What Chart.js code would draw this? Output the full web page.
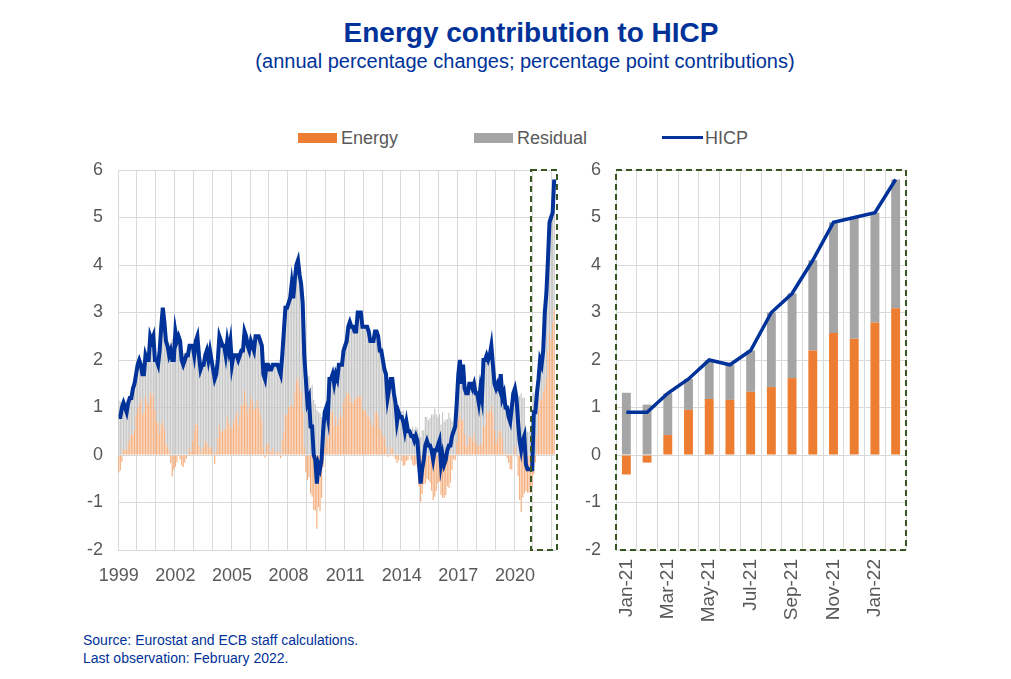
<!DOCTYPE html>
<html>
<head>
<meta charset="utf-8">
<script src="https://cdn.jsdelivr.net/npm/chart.js@4.4.1/dist/chart.umd.min.js"></script>
<style>
  body { margin: 0; width: 1011px; height: 679px; background: #fff; position: relative; overflow: hidden;
         font-family: "Liberation Sans", Arial, sans-serif; }
  .abs { position: absolute; }
  #title { left: 0; width: 1062px; top: 17px; text-align: center; font-size: 28px; font-weight: bold; color: #003299; line-height: 32px; }
  #subtitle { left: 0; width: 1050px; top: 49px; text-align: center; font-size: 20px; color: #003299; line-height: 24px; }
  .legText { font-size: 18px; color: #595959; line-height: 20px; top: 128px; }
  .foot { left: 83px; font-size: 14px; color: #003299; line-height: 18px; }
  #leftWrap { left: 0; top: 140px; width: 570px; height: 460px; }
  #rightWrap { left: 570px; top: 140px; width: 441px; height: 510px; }
</style>
</head>
<body>
<div id="title" class="abs">Energy contribution to HICP</div>
<div id="subtitle" class="abs">(annual percentage changes; percentage point contributions)</div>

<div class="abs" style="left:298px;top:133px;width:39px;height:10px;background:#ed7d31"></div>
<div class="abs legText" style="left:341px">Energy</div>
<div class="abs" style="left:474px;top:133px;width:39px;height:10px;background:#a5a5a5"></div>
<div class="abs legText" style="left:517px">Residual</div>
<div class="abs" style="left:662px;top:136px;width:41px;height:3px;background:#003299"></div>
<div class="abs legText" style="left:705px">HICP</div>

<div id="leftWrap" class="abs"><canvas id="leftChart"></canvas></div>
<div id="rightWrap" class="abs"><canvas id="rightChart"></canvas></div>

<div class="abs foot" style="top:631px">Source: Eurostat and ECB staff calculations.</div>
<div class="abs foot" style="top:649px">Last observation: February 2022.</div>

<script>
// monthly data, Jan 1999 - Feb 2022
const startYear = 1999;

// HICP, annual % change
const hicp = [
  0.8, 0.8, 1.0, 1.1, 1.0, 0.9, 1.1, 1.2, 1.2, 1.4, 1.5, 1.7,   // 1999
  1.9, 2.0, 1.9, 1.7, 1.7, 2.1, 2.0, 2.0, 2.5, 2.4, 2.5, 2.0,   // 2000
  2.0, 1.9, 2.2, 2.7, 3.1, 2.8, 2.4, 2.3, 2.1, 2.2, 2.0, 2.0,   // 2001
  2.6, 2.4, 2.5, 2.4, 2.0, 1.9, 2.0, 2.1, 2.1, 2.3, 2.3, 2.3,   // 2002
  2.1, 2.4, 2.5, 2.1, 1.8, 1.9, 1.9, 2.1, 2.2, 2.0, 2.2, 2.0,   // 2003
  1.8, 1.6, 1.7, 2.0, 2.5, 2.4, 2.3, 2.3, 2.1, 2.4, 2.2, 2.4,   // 2004
  1.9, 2.1, 2.1, 2.1, 2.0, 2.1, 2.2, 2.2, 2.6, 2.5, 2.3, 2.2,   // 2005
  2.4, 2.3, 2.2, 2.5, 2.5, 2.5, 2.4, 2.3, 1.7, 1.6, 1.9, 1.9,   // 2006
  1.8, 1.8, 1.9, 1.9, 1.9, 1.9, 1.8, 1.7, 2.1, 2.6, 3.1, 3.1,   // 2007
  3.2, 3.3, 3.6, 3.3, 3.7, 4.0, 4.1, 3.8, 3.6, 3.2, 2.1, 1.6,   // 2008
  1.1, 1.2, 0.6, 0.6, 0.0, -0.1, -0.6, -0.2, -0.3, -0.1, 0.5, 0.9, // 2009
  1.0, 0.8, 1.6, 1.6, 1.7, 1.5, 1.7, 1.6, 1.9, 1.9, 1.9, 2.2,   // 2010
  2.3, 2.4, 2.7, 2.8, 2.7, 2.7, 2.6, 2.6, 3.0, 3.0, 3.0, 2.7,   // 2011
  2.7, 2.7, 2.7, 2.6, 2.4, 2.4, 2.4, 2.6, 2.6, 2.5, 2.2, 2.2,   // 2012
  2.0, 1.8, 1.7, 1.2, 1.4, 1.6, 1.6, 1.3, 1.1, 0.7, 0.9, 0.8,   // 2013
  0.8, 0.7, 0.5, 0.7, 0.5, 0.5, 0.4, 0.4, 0.3, 0.4, 0.3, -0.2,  // 2014
  -0.6, -0.3, -0.1, 0.2, 0.3, 0.2, 0.2, 0.1, -0.1, 0.1, 0.1, 0.2, // 2015
  0.3, -0.2, 0.0, -0.2, -0.1, 0.1, 0.2, 0.2, 0.4, 0.5, 0.6, 1.1, // 2016
  1.7, 2.0, 1.5, 1.9, 1.4, 1.3, 1.3, 1.5, 1.5, 1.4, 1.5, 1.3,   // 2017
  1.3, 1.1, 1.4, 1.2, 2.0, 2.0, 2.1, 2.0, 2.1, 2.3, 1.9, 1.5,   // 2018
  1.4, 1.5, 1.4, 1.7, 1.2, 1.3, 1.0, 1.0, 0.8, 0.7, 1.0, 1.3,   // 2019
  1.4, 1.2, 0.7, 0.3, 0.1, 0.3, 0.4, -0.2, -0.3, -0.3, -0.3, -0.3, // 2020
  0.9, 0.9, 1.3, 1.6, 2.0, 1.9, 2.2, 3.0, 3.4, 4.1, 4.9, 5.0,   // 2021
  5.1, 5.8                                                      // 2022
];

// energy contribution, percentage points
const energy = [
  -0.37, -0.32, -0.14, 0.13, 0.10, 0.11, 0.26, 0.34, 0.44, 0.42, 0.52, 0.85,
  0.99, 1.08, 1.19, 0.84, 0.90, 1.24, 1.12, 1.05, 1.32, 1.22, 1.29, 0.94,
  0.72, 0.67, 0.45, 0.65, 0.71, 0.56, 0.24, 0.16, 0.11, -0.17, -0.45, -0.31,
  -0.25, -0.16, -0.01, -0.09, -0.22, -0.25, -0.16, -0.08, -0.02, 0.16, 0.07, 0.31,
  0.51, 0.65, 0.64, 0.19, 0.03, 0.13, 0.17, 0.30, 0.26, 0.14, 0.18, 0.15,
  0.03, -0.19, 0.08, 0.36, 0.62, 0.49, 0.50, 0.54, 0.56, 0.83, 0.68, 0.58,
  0.56, 0.69, 0.79, 0.92, 0.62, 0.85, 1.06, 1.04, 1.35, 1.09, 0.90, 1.01,
  1.22, 1.13, 0.95, 0.99, 1.16, 0.99, 0.86, 0.72, 0.14, -0.05, 0.21, 0.26,
  0.08, 0.07, 0.16, 0.04, 0.03, 0.08, 0.06, -0.07, 0.31, 0.49, 0.87, 0.83,
  1.02, 1.00, 1.08, 1.00, 1.32, 1.55, 1.63, 1.40, 1.30, 0.92, 0.17, -0.36,
  -0.53, -0.47, -0.81, -0.88, -1.16, -1.17, -1.55, -1.10, -1.18, -0.90, -0.25, 0.18,
  0.40, 0.33, 0.72, 0.91, 0.92, 0.62, 0.81, 0.61, 0.77, 0.85, 0.79, 1.10,
  1.20, 1.31, 1.30, 1.25, 1.11, 1.09, 1.18, 1.18, 1.24, 1.24, 1.23, 0.97,
  0.92, 0.95, 0.85, 0.81, 0.73, 0.61, 0.61, 0.89, 0.91, 0.80, 0.57, 0.52,
  0.39, 0.39, 0.17, -0.04, -0.02, 0.16, 0.16, -0.03, -0.09, -0.17, -0.11, 0.00,
  -0.12, -0.23, -0.21, -0.12, -0.11, 0.01, -0.10, -0.20, -0.23, -0.20, -0.26, -0.66,
  -0.98, -0.82, -0.62, -0.60, -0.50, -0.53, -0.58, -0.75, -0.95, -0.88, -0.76, -0.60,
  -0.56, -0.84, -0.90, -0.90, -0.84, -0.66, -0.69, -0.58, -0.31, -0.09, -0.11, 0.27,
  0.75, 0.85, 0.72, 0.74, 0.44, 0.18, 0.21, 0.39, 0.38, 0.29, 0.46, 0.28,
  0.21, 0.20, 0.19, 0.25, 0.59, 0.62, 0.92, 0.89, 0.92, 1.04, 0.88, 0.53,
  0.26, 0.35, 0.51, 0.51, 0.37, 0.02, 0.05, -0.06, -0.17, -0.30, -0.31, 0.02,
  0.18, -0.03, -0.44, -0.94, -1.20, -0.90, -0.81, -0.75, -0.79, -0.79, -0.80, -0.67,
  -0.41, -0.16, 0.42, 0.95, 1.18, 1.16, 1.33, 1.43, 1.62, 2.20, 2.57, 2.45,
  2.79, 3.09
];

// residual = headline minus energy
const residual = hicp.map((v, i) => +(v - energy[i]).toFixed(2));

const recentMonths = ['Jan-21', 'Feb-21', 'Mar-21', 'Apr-21', 'May-21', 'Jun-21', 'Jul-21',
                      'Aug-21', 'Sep-21', 'Oct-21', 'Nov-21', 'Dec-21', 'Jan-22', 'Feb-22'];
const yTicks = [-2, 6];

const months = hicp.map((v, i) => (startYear + Math.floor(i / 12)) + '-' + (i % 12 + 1));
const recentStart = months.length - recentMonths.length;

Chart.defaults.font.family = '"Liberation Sans", Arial, sans-serif';
Chart.defaults.font.size = 18;
Chart.defaults.color = '#595959';

const gridGrey = '#d9d9d9';
const blue = '#003299';

// dashed frame, either around whole plot or around the recent months only
const dashedBox = {
    id: 'dashedBox',
    afterDatasetsDraw(chart, args, opts) {
        const { ctx, chartArea, scales } = chart;
        let left = chartArea.left;
        let right = chartArea.right;
        if (opts.fromIndex !== undefined) {
            const x = scales.x;
            const step = x.getPixelForValue(1) - x.getPixelForValue(0);
            left = x.getPixelForValue(opts.fromIndex) - step / 2 - 2;
            right = chartArea.right + 2;
        }
        ctx.save();
        ctx.strokeStyle = '#375623';
        ctx.lineWidth = 2;
        ctx.setLineDash([6, 4]);
        ctx.strokeRect(left, chartArea.top, right - left, chartArea.bottom - chartArea.top);
        ctx.restore();
    }
};

function yAxis(width) {
    return {
        stacked: true,
        min: yTicks[0],
        max: yTicks[1],
        ticks: { stepSize: 1, padding: 15 },
        grid: { color: gridGrey, drawTicks: false },
        border: { color: gridGrey },
        afterFit(scale) { scale.width = width; }
    };
}

// left panel: full history
new Chart(document.getElementById('leftChart'), {
    type: 'bar',
    data: {
        labels: months,
        datasets: [
            { type: 'line', label: 'HICP', data: hicp, borderColor: blue, borderWidth: 4,
              pointRadius: 0, tension: 0, stack: 'line', order: 0 },
            { label: 'Energy', data: energy, backgroundColor: '#f5b080', borderWidth: 0,
              barPercentage: 0.75, categoryPercentage: 1, order: 1 },
            { label: 'Residual', data: residual, backgroundColor: '#c6c6c6', borderWidth: 0,
              barPercentage: 0.75, categoryPercentage: 1, order: 2 }
        ]
    },
    options: {
        responsive: true,
        maintainAspectRatio: false,
        animation: false,
        layout: { padding: { top: 30, right: 15, left: 0, bottom: 0 } },
        plugins: { legend: { display: false }, tooltip: { enabled: false },
                   dashedBox: { fromIndex: recentStart } },
        scales: {
            x: {
                stacked: true,
                ticks: {
                    autoSkip: false, maxRotation: 0, minRotation: 0, padding: 15,
                    callback: (v, i) => i % 36 === 0 ? String(startYear + i / 12) : ''
                },
                grid: {
                    drawTicks: false,
                    color: c => (c.index !== undefined && c.index % 12 === 0) ? gridGrey : 'rgba(0,0,0,0)'
                },
                border: { color: gridGrey },
                afterFit(scale) { scale.height = 50; }
            },
            y: yAxis(118)
        }
    },
    plugins: [dashedBox]
});

// right panel: last 14 months
new Chart(document.getElementById('rightChart'), {
    type: 'bar',
    data: {
        labels: recentMonths,
        datasets: [
            { type: 'line', label: 'HICP', data: hicp.slice(recentStart), borderColor: blue, borderWidth: 3.5,
              pointRadius: 0, tension: 0, stack: 'line', order: 0 },
            { label: 'Energy', data: energy.slice(recentStart), backgroundColor: '#ed7d31',
              barPercentage: 0.43, categoryPercentage: 1, order: 1 },
            { label: 'Residual', data: residual.slice(recentStart), backgroundColor: '#a5a5a5',
              barPercentage: 0.43, categoryPercentage: 1, order: 2 }
        ]
    },
    options: {
        responsive: true,
        maintainAspectRatio: false,
        animation: false,
        layout: { padding: { top: 30, right: 105, left: 0, bottom: 0 } },
        plugins: { legend: { display: false }, tooltip: { enabled: false }, dashedBox: {} },
        scales: {
            x: {
                stacked: true,
                ticks: {
                    autoSkip: false, maxRotation: 90, minRotation: 90, padding: 9,
                    font: { size: 19 },
                    callback: (v, i) => i % 2 === 0 ? recentMonths[i] : ''
                },
                grid: { color: gridGrey, drawTicks: false },
                border: { display: false },
                afterFit(scale) { scale.height = 100; }
            },
            y: Object.assign(yAxis(46), { border: { display: false } })
        }
    },
    plugins: [dashedBox]
});
</script>
</body>
</html>
